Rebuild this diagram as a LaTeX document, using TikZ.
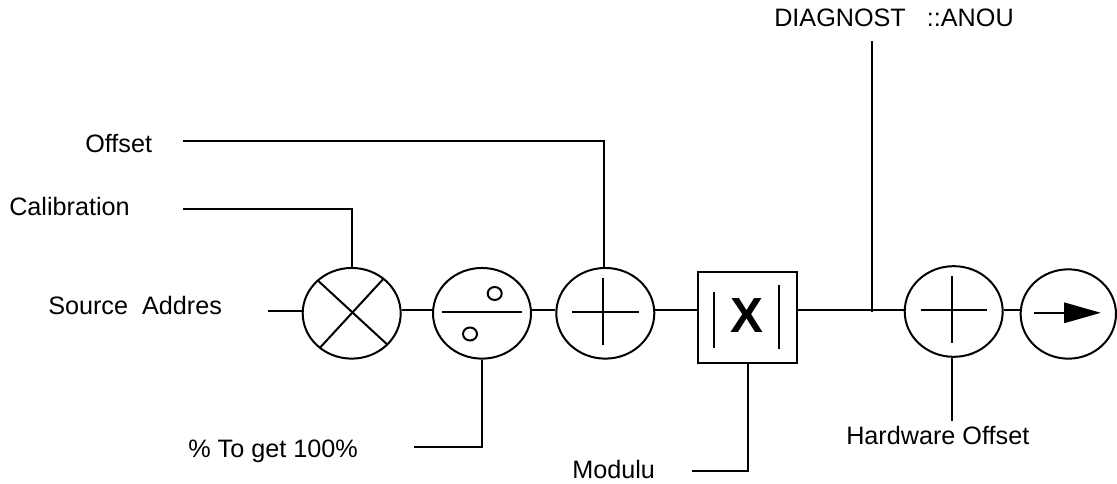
\documentclass[tikz,border=0pt]{standalone}
\usepackage{fontspec}
\setmainfont{Liberation Sans}
\usetikzlibrary{shapes.geometric,calc}
\tikzset{
 x=0.75pt,y=-0.75pt,
 ln/.style={line width=1.5pt,line cap=butt},
 opnode/.style={draw,ellipse,line width=1.5pt,inner sep=0pt,minimum width=73.5pt,minimum height=68pt},
 sq/.style={draw,rectangle,line width=1.5pt,inner sep=0pt,minimum width=74.5pt,minimum height=68pt},
 lab/.style={inner sep=0pt,font=\fontsize{18.9pt}{22pt}\selectfont,anchor=base west},
}
\begin{document}
\begin{tikzpicture}
\useasboundingbox (0,0) rectangle (1117,484);
\node[opnode] (mul) at (351.7,313.3) {};
\node[opnode] (div) at (482,313.3) {};
\node[opnode] (add) at (605.3,313.3) {};
\node[sq] (abs) at (747.8,317.5) {};
\node[opnode] (add2) at (953.7,311.5) {};
\node[opnode,minimum width=71.5pt,minimum height=67pt] (out) at (1068.3,314) {};
\node[lab] (src) at (48,315) {Source\ \ Addres};
\node[lab] (cal) at (9,216) {Calibration};
\node[lab] (off) at (85,153) {Offset};
\node[lab] (pcttext) at (188,457) {\% To get 100\%};
\node[lab] (mod) at (572,478) {Modulu};
\node[lab] (diag) at (774,27) {DIAGNOST\ \ \ ::ANOU};
\node[lab] (hw) at (846,444) {Hardware Offset};
\coordinate (srcEnd) at (268,310.7);
\coordinate (calEnd) at (183,208.7);
\coordinate (offEnd) at (183,140.7);
\coordinate (pctEnd) at (414,446.7);
\coordinate (modEnd) at (692,471);
\coordinate (diagEnd) at (872.3,41);
\coordinate (hwEnd) at (952.3,421);
\coordinate (tap) at (872.3,310.5);
% connectors
\draw[ln] (srcEnd) -- (srcEnd -| mul.west);
\draw[ln] (mul.east |- 0,310.5) -- (div.west |- 0,310.5);
\draw[ln] (div.east |- 0,310.5) -- (add.west |- 0,310.5);
\draw[ln] (add.east |- 0,310.5) -- (abs.west |- 0,310.5);
\draw[ln] (abs.east |- 0,310.5) -- (add2.west |- 0,310.5);
\draw[ln] (add2.east |- 0,310.5) -- (out.west |- 0,310.5);
\draw[ln] (calEnd) -| (mul.north);
\draw[ln] (offEnd) -| ([xshift=-1.2pt]add.north);
\draw[ln] (pctEnd) -| (div.south);
\draw[ln] (modEnd) -| (abs.south);
\draw[ln] (diagEnd) -- (tap) -- ++(0,2);
\draw[ln] (hwEnd) -- (hwEnd |- add2.south);
% symbols
\draw[ln] (317.3,280) -- (386.7,344);
\draw[ln] (383,279.3) -- (320,347.7);
\draw[ln] (442,311.7) -- (522,311.7);
\draw[line width=1.5pt] (494.7,293.5) ellipse (7 and 6.5);
\draw[line width=1.5pt] (470,334) ellipse (7 and 6.5);
\draw[ln] (572,312) -- (639,312);
\draw[ln] (603.3,278) -- (603.3,345);
\draw[ln] (714.3,291.7) -- (714.3,347.7);
\draw[ln] (779.3,285) -- (779.3,349.3);
\node[inner sep=0pt,font=\bfseries\fontsize{37pt}{40pt}\selectfont] (xx) at (746.7,316) {X};
\draw[ln] (920.7,310.3) -- (986.7,310.3);
\draw[ln] (952.3,275.7) -- (952.3,342.7);
\draw[ln] (1034.3,312.7) -- (1065,312.7);
\fill (1064,302.3) -- (1100.7,312.8) -- (1064,323.3) -- cycle;
\end{tikzpicture}
\end{document}
